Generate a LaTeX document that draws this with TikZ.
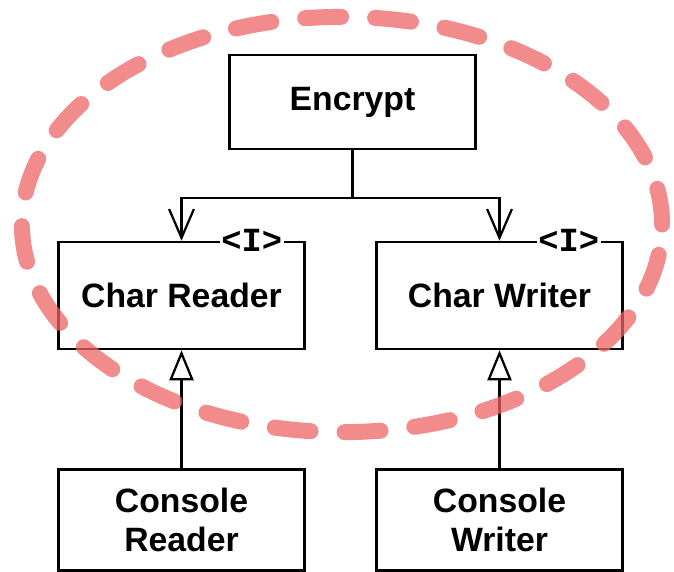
\documentclass[tikz,border=0pt]{standalone}
\usepackage{fontspec}
\setmainfont{Liberation Sans}
\setmonofont{Liberation Mono}
\usetikzlibrary{arrows.meta,positioning,shapes.geometric}
\definecolor{boundcol}{RGB}{238,100,100}

\begin{document}
\begin{tikzpicture}[
    x=0.025cm, y=-0.025cm,
    node distance=2.95cm,
    block/.style={draw, line width=1.8pt, fill=white, align=center, inner sep=0pt,
      minimum width=6.15cm, font=\fontsize{24}{27.5}\selectfont\bfseries},
    iface/.style={fill=white, inner sep=1pt, font=\fontsize{24}{24}\selectfont\ttfamily\bfseries},
    uses/.style={-{Straight Barb[length=0.72cm, width=0.62cm]}, line width=1.6pt},
    realizes/.style={-{Triangle[open, length=0.75cm, width=0.6cm]}, line width=1.6pt},
    boundary/.style={draw=boundcol, opacity=0.75, line width=0.4cm, line cap=round,
      dash pattern=on 0.9cm off 0.85cm}
  ]
    \useasboundingbox (0,0) rectangle (674,571);

    \node[block, minimum height=2.35cm] (encrypt) at (352.5,102) {Encrypt};

    \node[block, minimum height=2.675cm] (reader) at (181.5,295.5) {Char Reader};
    \node[block, minimum height=2.675cm] (writer) at (499.5,295.5) {Char Writer};

    \node[iface, xshift=-1.35cm] (readerI) at (reader.north east) {<I>};
    \node[iface, xshift=-1.375cm] (writerI) at (writer.north east) {<I>};

    \node[block, minimum height=2.525cm, below=2.95cm of reader.south, anchor=north] (conreader)
      {Console\\Reader};
    \node[block, minimum height=2.525cm, below=2.95cm of writer.south, anchor=north] (conwriter)
      {Console\\Writer};

    \coordinate (split) at (encrypt.south |- 0,198);

    \draw[line width=1.6pt] (encrypt.south) -- (split);
    \draw[uses] (split) -| (reader.north);
    \draw[uses] (split) -| (writer.north);
    \draw[realizes] (conreader.north) -- (reader.south);
    \draw[realizes] (conwriter.north) -- (writer.south);

    % core boundary
    \draw[boundary] (342,224.5) ellipse [x radius=8cm, y radius=5.19cm];
  \end{tikzpicture}
\end{document}
